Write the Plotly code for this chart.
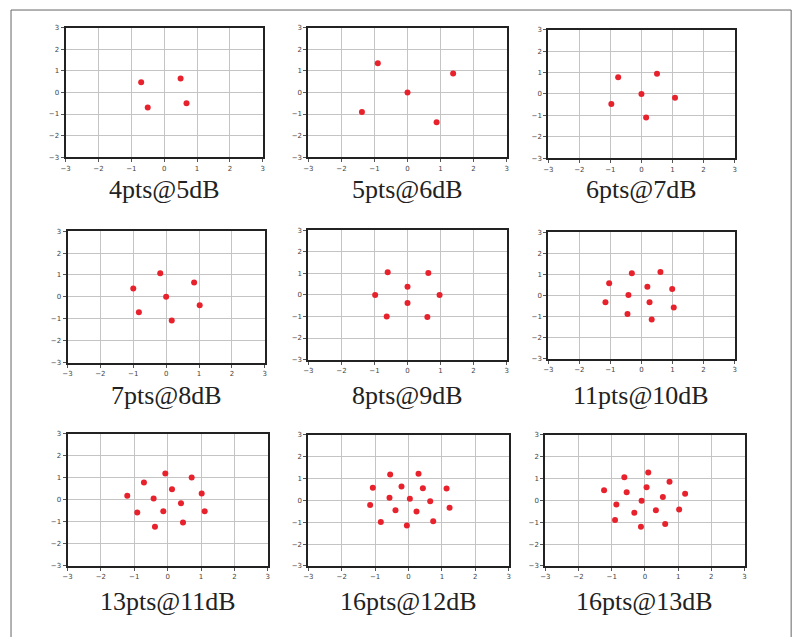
import plotly.graph_objects as go

W, H = 802, 637
OFF = 10  # page offset of the plot div

titles = ["4pts@5dB", "5pts@6dB", "6pts@7dB",
          "7pts@8dB", "8pts@9dB", "11pts@10dB",
          "13pts@11dB", "16pts@12dB", "16pts@13dB"]

p1_x = [-0.70, 0.50, -0.50, 0.68]
p1_y = [0.48, 0.65, -0.70, -0.50]

p2_x = [-0.90, 1.38, 0.00, -1.38, 0.88]
p2_y = [1.35, 0.88, 0.00, -0.90, -1.38]

p3_x = [-0.75, 0.50, 0.00, -0.97, 1.08, 0.15]
p3_y = [0.78, 0.95, 0.00, -0.47, -0.18, -1.10]

p4_x = [-0.18, 0.85, -1.00, 0.00, 1.02, -0.83, 0.17]
p4_y = [1.08, 0.66, 0.38, 0.00, -0.38, -0.70, -1.08]

p5_x = [-0.60, 0.63, 0.00, -0.98, 0.97, 0.00, -0.63, 0.60]
p5_y = [1.05, 1.02, 0.38, 0.00, 0.00, -0.38, -1.00, -1.03]

p6_x = [0.61, -0.31, -1.04, 0.19, 0.99, -0.42, -1.16, 0.26, 1.04, -0.45, 0.33]
p6_y = [1.11, 1.05, 0.58, 0.41, 0.30, 0.02, -0.33, -0.32, -0.57, -0.88, -1.14]

p7_x = [-0.07, 0.72, -0.71, 0.13, 1.02, -1.21, -0.42, 0.40, -0.91, -0.13, 1.11, 0.46, -0.38]
p7_y = [1.19, 1.01, 0.79, 0.48, 0.28, 0.18, 0.06, -0.16, -0.58, -0.52, -0.52, -1.03, -1.22]

p8_x = [-0.55, 0.30, -1.07, -0.21, 0.43, 1.14, -0.57, 0.04, 0.65, -1.15, -0.39, 0.24, 1.23, -0.83, 0.74, -0.05]
p8_y = [1.18, 1.21, 0.57, 0.63, 0.55, 0.54, 0.12, 0.07, -0.04, -0.22, -0.45, -0.51, -0.34, -0.99, -0.96, -1.15]

p9_x = [0.10, -0.62, 0.74, 0.05, -1.23, -0.55, 1.21, 0.54, -0.86, -0.10, 1.03, 0.33, -0.32, -0.90, 0.61, -0.12]
p9_y = [1.27, 1.05, 0.85, 0.60, 0.46, 0.37, 0.30, 0.15, -0.19, -0.02, -0.42, -0.46, -0.57, -0.90, -1.08, -1.21]

xs = [p1_x, p2_x, p3_x, p4_x, p5_x, p6_x, p7_x, p8_x, p9_x]
ys = [p1_y, p2_y, p3_y, p4_y, p5_y, p6_y, p7_y, p8_y, p9_y]

tick_vals = [-3, -2, -1, 0, 1, 2, 3]

# panel pixel boxes in the target picture (left, right, top, bottom)
boxes = [(63, 262, 26, 157), (308, 508, 26, 157), (550, 738, 28, 158),
         (65, 264, 232, 365), (308, 508, 231, 362), (550, 738, 233, 361),
         (65, 267, 437, 571), (308, 510, 438, 571), (547, 748, 438, 571)]
title_y = [190, 190, 190, 398, 398, 398, 607, 607, 607]

fig = go.Figure()
layout = dict(width=W, height=H, margin=dict(l=0, r=0, t=0, b=0),
              paper_bgcolor="white", plot_bgcolor="white", showlegend=False)
annotations = []
axis_common = dict(range=[-3, 3], tickvals=tick_vals, showgrid=True,
                   gridcolor="#c4c4c4", gridwidth=1, zeroline=False,
                   showline=True, linecolor="#222222", linewidth=2, mirror=True,
                   ticks="outside", ticklen=3, tickwidth=1, tickcolor="#555555",
                   tickfont=dict(family="DejaVu Sans", size=7, color="#444444"),
                   fixedrange=True)

def fx(px):
    return (px - OFF) / W

def fy(py):
    return 1 - (py - OFF) / H

for i in range(9):
    l, r, t, b = boxes[i]
    n = "" if i == 0 else str(i + 1)
    fig.add_trace(go.Scatter(x=xs[i], y=ys[i], mode="markers",
                             marker=dict(color="#e8222c", size=6),
                             xaxis="x" + n, yaxis="y" + n))
    layout["xaxis" + n] = dict(axis_common, domain=[fx(l), fx(r)], anchor="y" + n)
    layout["yaxis" + n] = dict(axis_common, domain=[fy(b), fy(t)], anchor="x" + n)
    annotations.append(dict(text=titles[i], x=fx((l + r) / 2), y=fy(title_y[i]),
                            xref="paper", yref="paper", showarrow=False,
                            xanchor="center", yanchor="middle",
                            font=dict(family="Liberation Serif", size=26, color="#222222")))

layout["annotations"] = annotations
layout["shapes"] = [dict(type="rect", xref="paper", yref="paper",
                         x0=fx(8), x1=fx(795), y0=-0.05, y1=fy(8),
                         line=dict(color="#666666", width=1))]
fig.update_layout(**layout)
fig.write_html("out.html")
